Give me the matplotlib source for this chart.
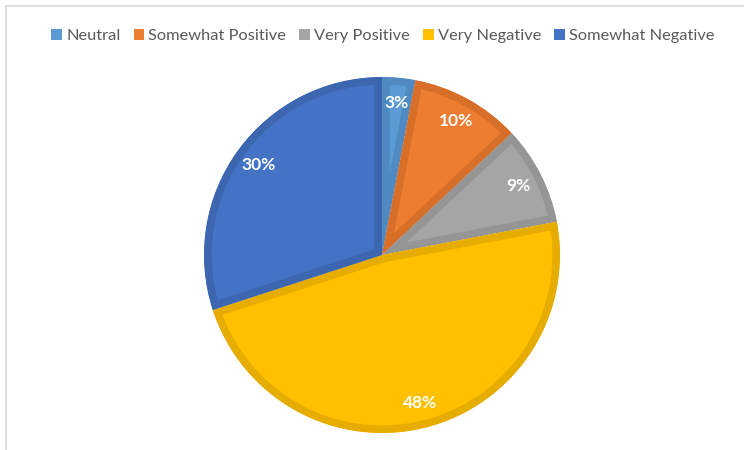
import matplotlib.pyplot as plt
from matplotlib.lines import Line2D
from matplotlib.patches import Patch

labels = ["Neutral", "Somewhat Positive", "Very Positive", "Very Negative", "Somewhat Negative"]
shares = [3, 10, 9, 48, 30]
colors = ["#5B9BD5", "#ED7D31", "#A5A5A5", "#FFC000", "#4472C4"]
edges = ["#4F8BC2", "#D86F28", "#959595", "#E6AD00", "#3D66B0"]

plt.rcParams['font.family'] = ['Lato', 'DejaVu Sans']

W, H = 744, 450
fig = plt.figure(figsize=(W / 100, H / 100), dpi=100)

# pie centred at (382, 255) px from top-left, radius 178 px
cx, cy, r = 382, 255, 178
ax = fig.add_axes([(cx - r) / W, (H - cy - r) / H, 2 * r / W, 2 * r / H])

wedges, texts, autotexts = ax.pie(
    shares, colors=colors, startangle=90, counterclock=False,
    autopct=lambda p: f"{p:.0f}%", pctdistance=0.86,
    textprops=dict(color="white", fontsize=12.5, fontweight="bold"),
)
for w, ec in zip(wedges, edges):
    # stroke clipped to the wedge itself so the border sits inside
    w.set_edgecolor(ec)
    w.set_linewidth(11)
    w.set_clip_path(w)
    w.set_clip_on(True)
ax.set_xlim(-1, 1)
ax.set_ylim(-1, 1)

handles = [Patch(facecolor=c, edgecolor="none") for c in colors]
fig.legend(handles, labels, loc="center", bbox_to_anchor=(383 / W, 1 - 36 / H),
           ncol=5, frameon=False, fontsize=11.8, labelcolor="#595959",
           handlelength=0.65, handleheight=0.65, handletextpad=0.25,
           columnspacing=0.8, borderaxespad=0)

# chart area border (top and left edges visible)
fig.add_artist(Line2D([6 / W, 1], [1 - 6 / H, 1 - 6 / H], transform=fig.transFigure,
                      color="#D9D9D9", lw=1.2))
fig.add_artist(Line2D([6 / W, 6 / W], [0, 1 - 6 / H], transform=fig.transFigure,
                      color="#D9D9D9", lw=1.2))

fig.savefig("out.png", dpi=100, facecolor="white")
